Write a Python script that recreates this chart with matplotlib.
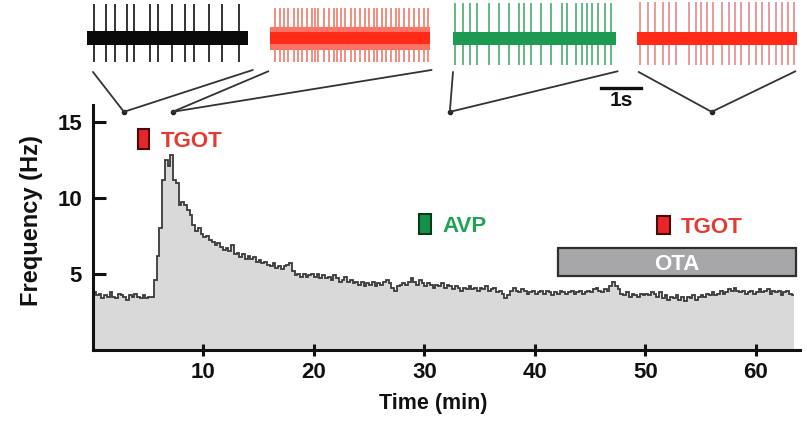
import matplotlib
matplotlib.use("Agg")
import matplotlib.pyplot as plt
import matplotlib.transforms as mtransforms
from matplotlib.patches import Rectangle, ConnectionPatch
import numpy as np

plt.rcParams['font.family'] = ['Liberation Sans', 'DejaVu Sans']
plt.rcParams['font.weight'] = 'bold'

# ---------------- data ----------------
bin_width = 0.25  # min
freq = [
    # 0-5 min
    3.8, 3.6, 3.7, 3.4, 3.6, 3.5, 3.8, 3.5, 3.4, 3.7, 3.6, 3.5, 3.3, 3.6, 3.5, 3.7, 3.5, 3.4, 3.6, 3.4,
    # 5-10
    3.5, 3.5, 4.6, 6.2, 8.0, 11.2, 12.5, 12.1, 12.8, 11.2, 11.0, 9.5, 9.7, 9.5, 9.2, 8.9, 8.2, 7.8, 8.0, 7.6,
    # 10-15
    7.4, 7.5, 7.2, 7.1, 6.9, 7.0, 6.8, 6.6, 6.7, 6.5, 6.9, 6.3, 6.4, 6.1, 6.3, 6.0, 6.2, 6.0, 6.1, 5.8,
    # 15-20
    5.9, 5.7, 5.8, 5.6, 5.5, 5.7, 5.4, 5.5, 5.3, 5.5, 5.6, 5.7, 5.2, 4.9, 5.0, 4.8, 5.0, 4.8, 4.9, 5.0,
    # 20-25
    4.8, 5.0, 4.7, 4.9, 4.7, 4.8, 4.6, 4.9, 4.7, 4.5, 4.6, 4.8, 4.5, 4.6, 4.4, 4.5, 4.3, 4.5, 4.2, 4.4,
    # 25-30
    4.3, 4.5, 4.2, 4.4, 4.3, 4.5, 4.6, 4.4, 4.1, 3.9, 4.2, 4.3, 4.4, 4.3, 4.5, 4.7, 4.5, 4.3, 4.6, 4.4,
    # 30-35
    4.2, 4.4, 4.3, 4.1, 4.3, 4.2, 4.4, 4.1, 4.3, 4.2, 4.0, 4.2, 4.1, 3.9, 4.1, 4.0, 4.2, 4.0, 4.1, 3.9,
    # 35-40
    4.1, 4.0, 4.2, 3.9, 4.0, 4.1, 3.8, 3.9, 3.7, 3.4, 3.6, 3.9, 4.1, 3.9, 3.8, 4.0, 3.9, 3.7, 3.8, 3.9,
    # 40-45
    3.7, 3.8, 3.9, 3.7, 3.9, 3.8, 3.6, 3.8, 3.7, 3.9, 3.8, 3.7, 3.8, 3.9, 3.7, 3.8, 3.9, 3.7, 3.8, 3.9,
    # 45-50
    3.8, 4.0, 4.1, 3.9, 3.8, 4.0, 3.9, 4.2, 4.5, 4.2, 4.0, 3.7, 3.6, 3.8, 3.5, 3.7, 3.6, 3.5, 3.7, 3.6,
    # 50-55
    3.7, 3.6, 3.8, 3.7, 3.5, 3.8, 3.4, 3.6, 3.3, 3.5, 3.4, 3.6, 3.3, 3.5, 3.2, 3.5, 3.4, 3.6, 3.3, 3.5,
    # 55-60
    3.6, 3.5, 3.7, 3.6, 3.8, 3.6, 3.7, 3.9, 3.7, 3.8, 4.0, 3.9, 4.1, 3.9, 3.8, 3.9, 3.7, 3.8, 3.9, 3.7,
    # 60-63.5
    3.8, 4.0, 3.8, 3.9, 4.0, 3.7, 3.9, 3.8, 3.9, 3.6, 3.8, 3.9, 3.7, 3.6,
]

x_ticks = [10, 20, 30, 40, 50, 60]
y_ticks = [5, 10, 15]

# drug applications (min) and the y band (Hz) of their markers
puff_labels = ["TGOT", "AVP", "TGOT"]
puff_start = [4.1, 29.5, 51.1]
puff_end = [5.1, 30.6, 52.2]
puff_ylo = [13.2, 7.6, 7.6]
puff_yhi = [14.5, 8.95, 8.8]
ota_label = "OTA"
ota_start, ota_end = 42.1, 63.6
ota_ylo, ota_yhi = 4.84, 6.67

# snapshot times (min) of the example traces
snapshot_times = [2.8, 7.2, 32.3, 56.0]

# spike times (s) in each 4-s example trace
spikes_black = [0.17, 0.46, 0.68, 0.98, 1.15, 1.54, 1.73, 2.07, 2.39, 2.61, 2.98, 3.29, 3.71]
spikes_red1 = [0.12, 0.25, 0.35, 0.45, 0.58, 0.68, 0.78, 0.91, 1.03, 1.11, 1.19, 1.32, 1.44,
               1.56, 1.65, 1.75, 1.85, 1.98, 2.10, 2.22, 2.33, 2.43, 2.55, 2.63, 2.76, 2.84,
               2.96, 3.09, 3.17, 3.29, 3.41, 3.54, 3.66, 3.79, 3.89]
spikes_green = [0.05, 0.24, 0.41, 0.57, 0.86, 1.12, 1.36, 1.60, 1.72, 1.89, 2.13, 2.37, 2.63,
                2.75, 2.97, 3.11, 3.23, 3.35, 3.49, 3.66, 3.80]
spikes_red2 = [0.07, 0.28, 0.44, 0.64, 0.79, 0.97, 1.28, 1.46, 1.58, 1.72, 1.86, 2.09, 2.25,
               2.41, 2.55, 2.74, 2.92, 3.08, 3.23, 3.41, 3.57, 3.71, 3.85]

# ---------------- figure ----------------
W, H = 807, 425
fig = plt.figure(figsize=(W / 100, H / 100), dpi=100)

def frac(x0, y0, x1, y1):
    return [x0 / W, 1 - y1 / H, (x1 - x0) / W, (y1 - y0) / H]

ax = fig.add_axes(frac(93, 105, 800, 350))
edges = np.arange(len(freq) + 1) * bin_width
ax.stairs(freq, edges, fill=True, color='#d9d9d9', linewidth=0)
ax.stairs(freq, edges, baseline=None, color='#3a3a3a', linewidth=1.3)

ax.set_xlim(0, 64)
ax.set_ylim(0, 16.1)
ax.set_xticks(x_ticks)
ax.set_yticks(y_ticks)
for s in ['top', 'right']:
    ax.spines[s].set_visible(False)
for s in ['left', 'bottom']:
    ax.spines[s].set_linewidth(2.2)
    ax.spines[s].set_color('#111111')
ax.tick_params(axis='y', direction='in', length=9, width=2.2, labelsize=16, pad=8, colors='#111111')
ax.tick_params(axis='x', direction='inout', length=9, width=2.2, labelsize=16, pad=4, colors='#111111')
ax.set_ylabel('Frequency (Hz)', fontsize=17, fontweight='bold', color='#111111')
ax.yaxis.set_label_coords(-0.071, 0.53)
ax.set_xlabel('Time (min)', fontsize=15.5, fontweight='bold', color='#111111')
ax.xaxis.set_label_coords(0.481, -0.175)

puff_face = ['#e8262a', '#17904a', '#e8262a']
puff_edge = ['#4a0a0a', '#0a3a1a', '#4a0a0a']
puff_text = ['#e53a30', '#21a354', '#e53a30']
for lab, x0, x1, y0, y1, fc, ec, tc in zip(puff_labels, puff_start, puff_end, puff_ylo, puff_yhi,
                                            puff_face, puff_edge, puff_text):
    ax.add_patch(Rectangle((x0, y0), x1 - x0, y1 - y0, facecolor=fc, edgecolor=ec, linewidth=1.5,
                           clip_on=False, zorder=5))
    ax.text(x1 + 1.0, (y0 + y1) / 2, lab, color=tc, fontsize=16, fontweight='bold',
            ha='left', va='center_baseline', zorder=5)

ax.add_patch(Rectangle((ota_start, ota_ylo), ota_end - ota_start, ota_yhi - ota_ylo,
                       facecolor='#a7a7aa', edgecolor='#2e2e2e', linewidth=1.6, zorder=5, clip_on=False))
ax.text((ota_start + ota_end) / 2, (ota_ylo + ota_yhi) / 2, ota_label, color='white', fontsize=16,
        fontweight='bold', ha='center', va='center_baseline', zorder=6)

# ---------------- example traces ----------------
trace_boxes = [(87, 248), (270, 430), (453, 616), (637, 797)]
trace_spikes = [spikes_black, spikes_red1, spikes_green, spikes_red2]
band_col = ['#0a0a0a', '#ff2a18', '#1c9a52', '#ff2a18']
spike_col = ['#111111', '#f07a6a', '#4aaa72', '#e88a8a']
band_half = [7, 9, 6.5, 6.5]
spike_top = [34, 30, 35, 36]
spike_bot = [-24, -24, -27, -27]

conn_pts = [((0.037, -0.09), (1.03, -0.06)),
            ((-0.01, -0.08), (1.01, -0.06)),
            ((0.0, -0.09), (1.01, -0.08)),
            ((0.01, -0.09), (0.99, -0.08))]

trace_axes = []
for (x0, x1), spk, bc, sc, bh, st, sb, cp, tsnap in zip(trace_boxes, trace_spikes, band_col,
                                                     spike_col, band_half, spike_top, spike_bot,
                                                     conn_pts, snapshot_times):
    tax = fig.add_axes(frac(x0, 0, x1, 66))
    tax.set_xlim(0, 3.93)
    tax.set_ylim(-28, 38)
    tax.axis('off')
    tax.vlines(spk, sb, st, color=sc, linewidth=1.2, zorder=2)
    if bc == '#ff2a18' and len(spk) > 30:
        tax.fill_between([0, 3.93], -12, 11, color='#ff7060', linewidth=0, zorder=1)
        tax.fill_between([0, 3.93], -6, 6, color=bc, linewidth=0, zorder=3)
    else:
        tax.fill_between([0, 3.93], -bh, bh, color=bc, linewidth=0, zorder=3)
    for p in cp:
        con = ConnectionPatch(xyA=p, coordsA=tax.transAxes, xyB=(tsnap, 15.65), coordsB=ax.transData,
                              color='#333333', linewidth=1.3)
        fig.add_artist(con)
    trace_axes.append(tax)

ax.plot(snapshot_times, [15.65] * len(snapshot_times), 'o', color='#222222', markersize=3,
        clip_on=False, zorder=6)

# 1 s scale bar under the green trace
gax = trace_axes[2]
btr = mtransforms.blended_transform_factory(gax.transData, gax.transAxes)
gax.plot([3.56, 4.54], [-0.33, -0.33], color='#111111', linewidth=2.4, transform=btr, clip_on=False)
gax.text(4.05, -0.52, '1s', transform=btr, ha='center', va='center', fontsize=15,
         fontweight='bold', color='#111111')

fig.savefig('out.png', dpi=100)
